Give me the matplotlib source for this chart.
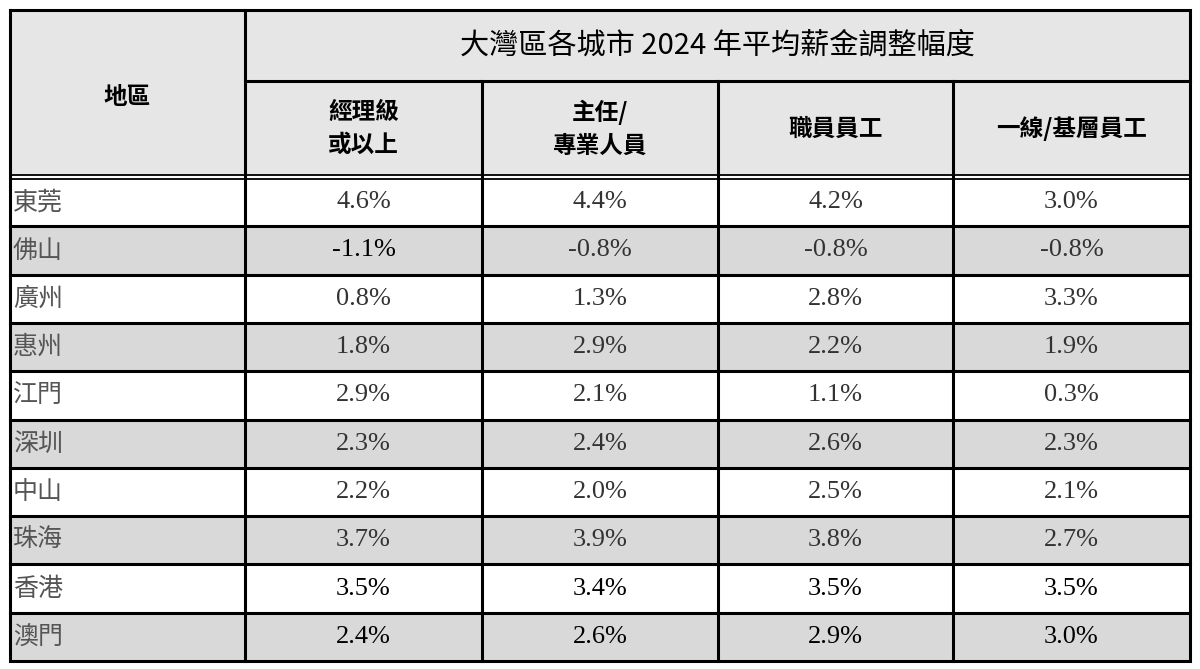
import matplotlib
matplotlib.use("Agg")
import matplotlib.pyplot as plt
from matplotlib.patches import Rectangle

title = "大灣區各城市 2024 年平均薪金調整幅度"
corner = "地區"
columns = ["經理級\n或以上", "主任/\n專業人員", "職員員工", "一線/基層員工"]
cities = ["東莞", "佛山", "廣州", "惠州", "江門", "深圳", "中山", "珠海", "香港", "澳門"]
manager = [4.6, -1.1, 0.8, 1.8, 2.9, 2.3, 2.2, 3.7, 3.5, 2.4]
supervisor = [4.4, -0.8, 1.3, 2.9, 2.1, 2.4, 2.0, 3.9, 3.4, 2.6]
clerk = [4.2, -0.8, 2.8, 2.2, 1.1, 2.6, 2.5, 3.8, 3.5, 2.9]
frontline = [3.0, -0.8, 3.3, 1.9, 0.3, 2.3, 2.1, 2.7, 3.5, 3.0]
series = [manager, supervisor, clerk, frontline]

CJK = ["Noto Sans CJK TC", "DejaVu Sans"]
SERIF = ["Liberation Serif", "DejaVu Serif"]

fig = plt.figure(figsize=(12, 6.69), dpi=100)
ax = fig.add_axes([0, 0, 1, 1])
ax.set_xlim(0, 1200)
ax.set_ylim(669, 0)
ax.axis("off")

xs = [10, 245, 482, 718, 953, 1190]
top, h1, h2 = 10, 81, 176
y0, y1 = 178, 661
rh = (y1 - y0) / len(cities)

ax.add_patch(Rectangle((xs[0], top), xs[-1] - xs[0], h2 - top, fc="#e6e6e6", ec="none"))
for i in range(len(cities)):
    yy = y0 + i * rh
    fc = "white" if i % 2 == 0 else "#d9d9d9"
    ax.add_patch(Rectangle((xs[0], yy), xs[-1] - xs[0], rh, fc=fc, ec="none"))

lw = 2.2
ax.plot([xs[0], xs[-1], xs[-1], xs[0], xs[0]], [top, top, y1, y1, top], color="black", lw=lw, solid_joinstyle="miter")
ax.plot([xs[1], xs[1]], [top, y1], color="black", lw=lw)
for x in xs[2:-1]:
    ax.plot([x, x], [h1, y1], color="black", lw=lw)
ax.plot([xs[1], xs[-1]], [h1, h1], color="black", lw=lw)
ax.plot([xs[0], xs[-1]], [h2 - 1, h2 - 1], color="black", lw=1.3)
ax.plot([xs[0], xs[-1]], [y0 + 1, y0 + 1], color="black", lw=1.3)
for i in range(1, len(cities)):
    yy = y0 + i * rh
    ax.plot([xs[0], xs[-1]], [yy, yy], color="black", lw=lw)

ax.text((xs[1] + xs[-1]) / 2, (top + h1) / 2, title, ha="center", va="center",
        fontsize=21, family=CJK, color="black")
ax.text((xs[0] + xs[1]) / 2, 97, corner, ha="center", va="center", fontsize=17,
        fontweight="bold", family=CJK)
for j, c in enumerate(columns):
    ax.text((xs[j + 1] + xs[j + 2]) / 2, (h1 + h2) / 2, c, ha="center", va="center",
            fontsize=17, fontweight="bold", family=CJK, linespacing=1.45)

for i, city in enumerate(cities):
    yc = y0 + (i + 0.5) * rh
    ax.text(xs[0] + 3, yc, city, ha="left", va="center", fontsize=18, color="#555555",
            family=CJK)
    dark = city in ("香港", "澳門")
    for j, s in enumerate(series):
        col = "black" if dark or (i == 1 and j == 0) else "#333333"
        ax.text((xs[j + 1] + xs[j + 2]) / 2, yc, f"{s[i]:.1f}%", ha="center", va="center",
                fontsize=19, color=col, family=SERIF)

fig.savefig("out.png", dpi=100, facecolor="white")
